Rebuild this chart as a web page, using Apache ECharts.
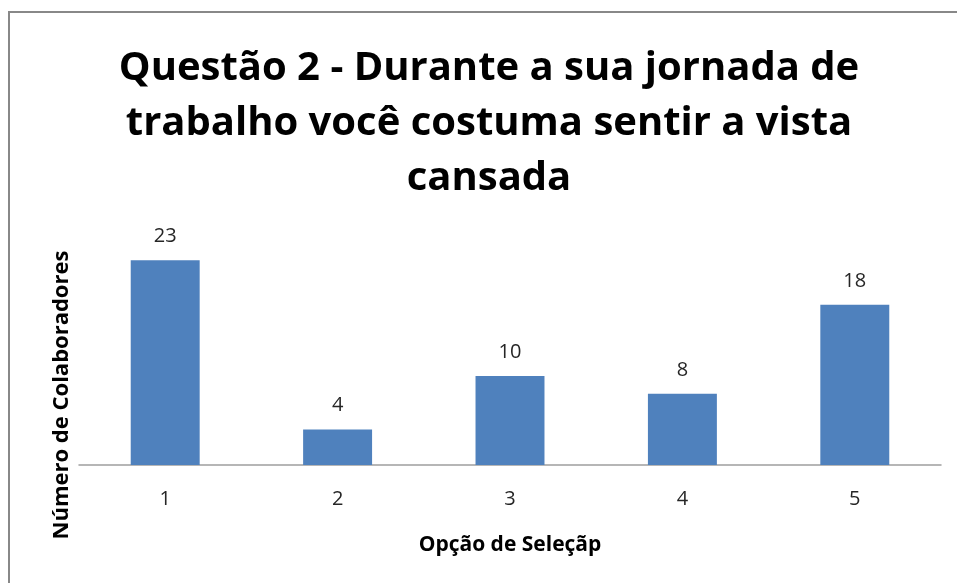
<!DOCTYPE html>
<html>
<head>
<meta charset="utf-8">
<script src="https://cdn.jsdelivr.net/npm/echarts@6/dist/echarts.min.js"></script>
<style>
html,body{margin:0;padding:0;background:#fff;}
#main{width:957px;height:583px;}
</style>
</head>
<body>
<div id="main"></div>
<script>
const categories = ['1', '2', '3', '4', '5'];
const values = [23, 4, 10, 8, 18];
const titleText = 'Questão 2 - Durante a sua jornada de\ntrabalho você costuma sentir a vista\ncansada';
const xName = 'Opção de Seleçãp';
const yName = 'Número de Colaboradores';

const chart = echarts.init(document.getElementById('main'));
chart.setOption({
  backgroundColor: '#ffffff',
  animation: false,
  title: {
    text: titleText,
    left: 484,
    top: 36,
    textAlign: 'center',
    textStyle: {
      fontFamily: 'Open Sans',
      fontWeight: 'bold',
      fontSize: 40,
      lineHeight: 55,
      color: '#000000'
    }
  },
  grid: { left: 79, right: 16, top: 242.5, bottom: 118 },
  xAxis: {
    type: 'category',
    data: categories,
    axisLine: { show: true, lineStyle: { color: '#9e9e9e', width: 1.5 } },
    axisTick: { show: false },
    axisLabel: { margin: 24, fontSize: 20, color: '#262626', fontFamily: 'Open Sans' },
    name: xName,
    nameLocation: 'middle',
    nameGap: 80,
    nameTextStyle: { fontSize: 21, fontWeight: 'bold', color: '#000', fontFamily: 'Open Sans', verticalAlign: 'middle' }
  },
  yAxis: {
    type: 'value',
    min: 0,
    max: 25,
    show: false
  },
  graphic: [
    {
      type: 'rect',
      shape: { x: 9, y: 12, width: 980, height: 620 },
      style: { fill: 'none', stroke: '#888888', lineWidth: 2 },
      silent: true
    },
    {
      type: 'text',
      x: 62,
      y: 395,
      rotation: Math.PI / 2,
      style: {
        text: yName,
        font: 'bold 22px "Open Sans"',
        fill: '#000',
        textAlign: 'center',
        textVerticalAlign: 'middle'
      }
    }
  ],
  series: [{
    type: 'bar',
    data: values,
    barWidth: '40%',
    itemStyle: { color: '#4f81bd' },
    label: {
      show: true,
      position: 'top',
      distance: 14,
      fontSize: 20,
      color: '#262626',
      fontFamily: 'Open Sans'
    }
  }]
});
</script>
</body>
</html>
